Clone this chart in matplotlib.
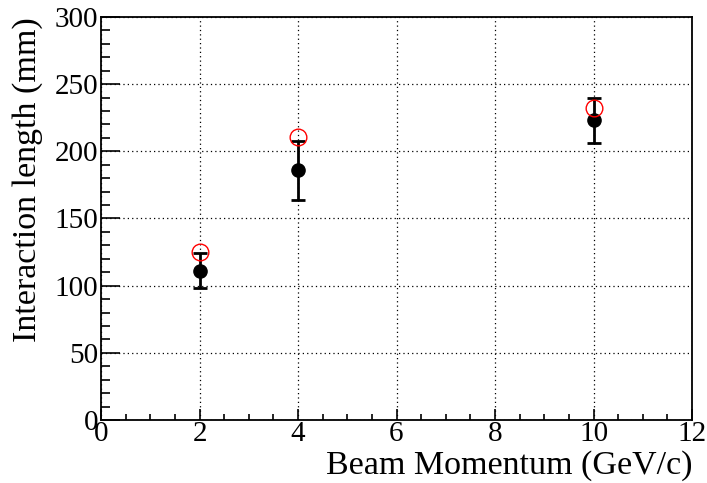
import matplotlib
matplotlib.use("Agg")
import matplotlib.pyplot as plt
from matplotlib.ticker import MultipleLocator

momentum = [2, 4, 10]
measured = [111, 186, 223]
measured_err = [13, 22, 17]
reference = [125, 211, 232]

plt.rcParams['font.family'] = ['Liberation Serif', 'DejaVu Serif']
plt.rcParams['mathtext.fontset'] = 'stix'

fig = plt.figure(figsize=(7.07, 4.83), dpi=100)
ax = fig.add_axes([101/707, (483-420)/483, (692-101)/707, (420-17)/483])

ax.set_xlim(0, 12)
ax.set_ylim(0, 300)
ax.xaxis.set_major_locator(MultipleLocator(2))
ax.xaxis.set_minor_locator(MultipleLocator(0.5))
ax.yaxis.set_major_locator(MultipleLocator(50))
ax.yaxis.set_minor_locator(MultipleLocator(10))
ax.tick_params(which='both', direction='in', top=False, right=False, labelsize=21, width=1.2)
ax.tick_params(axis='y', which='major', length=14)
ax.tick_params(axis='y', which='minor', length=6.5)
ax.tick_params(axis='x', which='major', length=8)
ax.tick_params(axis='x', which='minor', length=4)
ax.tick_params(axis='x', pad=1)
ax.tick_params(axis='y', pad=2)
for s in ax.spines.values():
    s.set_linewidth(1.3)
    s.set_color('black')

ax.grid(True, which='major', linestyle=(0, (1, 2.5)), color='black', linewidth=0.9)
ax.set_axisbelow(True)

ax.errorbar(momentum, measured, yerr=measured_err, fmt='o', color='black',
            markersize=9.5, elinewidth=2, capsize=5, capthick=2, zorder=3)
ax.plot(momentum, reference, 'o', markerfacecolor='none', markeredgecolor='red',
        markersize=12, markeredgewidth=1.0, zorder=4)

ax.set_xlabel('Beam Momentum (GeV/c)', fontsize=24.5, loc='right', labelpad=2)
ax.set_ylabel('Interaction length (mm)', fontsize=24.5, loc='top', labelpad=8)

fig.savefig('out.png', dpi=100)
